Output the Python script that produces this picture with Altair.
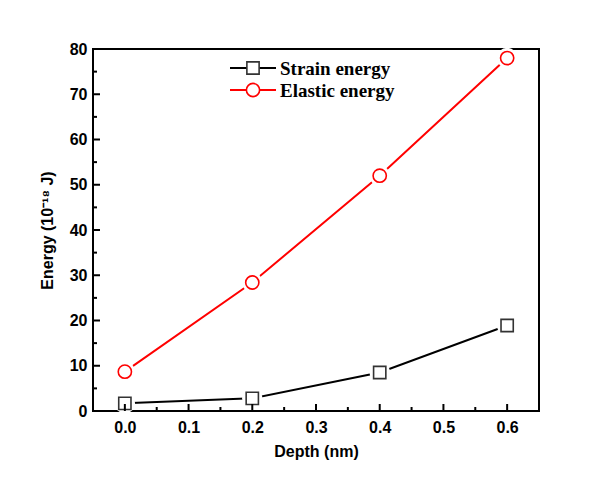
import altair as alt
import pandas as pd

depth = [0.0, 0.2, 0.4, 0.6]
strain = [1.7, 2.8, 8.5, 18.9]
elastic = [8.7, 28.4, 52.0, 78.0]
series_names = ["Strain energy", "Elastic energy"]
series_colors = ["#000000", "#ff0000"]
marker_colors = ["#333333", "#ff0000"]
marker_shapes = ["square", "circle"]
marker_sizes = [150, 175]
x_major = [0.0, 0.1, 0.2, 0.3, 0.4, 0.5, 0.6]
x_minor = [0.05, 0.15, 0.25, 0.35, 0.45, 0.55]
y_major = [0, 10, 20, 30, 40, 50, 60, 70, 80]
y_minor = [5, 15, 25, 35, 45, 55, 65, 75]

rows = []
for d, s, e in zip(depth, strain, elastic):
    rows.append({"depth": d, "energy": s, "series": series_names[0]})
    rows.append({"depth": d, "energy": e, "series": series_names[1]})
df = pd.DataFrame(rows)
legend_df = pd.DataFrame({"series": series_names})

W, H = 446, 362
xs = alt.Scale(domain=[-0.05, 0.65], nice=False, zero=False)
ys = alt.Scale(domain=[0, 80], nice=False)
cs = alt.Scale(domain=series_names, range=series_colors)

lab = dict(labelFont="Liberation Sans", labelFontWeight="bold", labelFontSize=16, labelColor="black",
           titleFont="Liberation Sans", titleFontWeight="bold", titleFontSize=16, titleColor="black")
main_x = alt.Axis(orient="bottom", values=x_major, format=".1f", ticks=False, grid=False,
                  domain=False, labelPadding=8, title="Depth (nm)", titlePadding=8, **lab)
main_y = alt.Axis(orient="left", values=y_major, ticks=False, grid=False, domain=False,
                  labelPadding=6, title="Energy (10⁻¹⁸ J)", titlePadding=14, **lab)

base = alt.Chart(df)

lines = base.mark_line(strokeWidth=2).encode(
    x=alt.X("depth:Q", scale=xs, axis=main_x),
    y=alt.Y("energy:Q", scale=ys, axis=main_y),
    color=alt.Color("series:N", scale=cs, legend=None),
)

halo = base.mark_point(filled=True, color="white", opacity=1, size=420, shape="circle").encode(
    x=alt.X("depth:Q", scale=xs),
    y=alt.Y("energy:Q", scale=ys),
)

marker_layers = []
for name, col, shp, sz in zip(series_names, marker_colors, marker_shapes, marker_sizes):
    marker_layers.append(
        base.transform_filter(alt.datum.series == name).mark_point(
            shape=shp, filled=False, fill="white", stroke=col, strokeWidth=1.6, opacity=1, size=sz
        ).encode(x=alt.X("depth:Q", scale=xs), y=alt.Y("energy:Q", scale=ys))
    )

xmaj = alt.Chart(pd.DataFrame({"v": x_major})).mark_rule(color="black", strokeWidth=2).encode(
    x=alt.X("v:Q", scale=xs), y=alt.value(H), y2=alt.value(H - 7))
xmin = alt.Chart(pd.DataFrame({"v": x_minor})).mark_rule(color="black", strokeWidth=2).encode(
    x=alt.X("v:Q", scale=xs), y=alt.value(H), y2=alt.value(H - 4))
ymaj = alt.Chart(pd.DataFrame({"v": y_major})).mark_rule(color="black", strokeWidth=2).encode(
    y=alt.Y("v:Q", scale=ys), x=alt.value(0), x2=alt.value(7))
ymin = alt.Chart(pd.DataFrame({"v": y_minor})).mark_rule(color="black", strokeWidth=2).encode(
    y=alt.Y("v:Q", scale=ys), x=alt.value(0), x2=alt.value(4))

# legend (line + marker + label per entry), placed inside the top of the plot
legend_layers = []
for i, (name, lcol, mcol, shp, sz) in enumerate(zip(series_names, series_colors, marker_colors,
                                                     marker_shapes, marker_sizes)):
    ly = 19 + 22 * i
    ldata = alt.Chart(legend_df).transform_filter(alt.datum.series == name)
    legend_layers.append(ldata.mark_rule(color=lcol, strokeWidth=2).encode(
        x=alt.value(137), x2=alt.value(183), y=alt.value(ly)))
    legend_layers.append(ldata.mark_point(
        shape=shp, filled=False, fill="white", stroke=mcol, strokeWidth=1.6, opacity=1, size=sz
    ).encode(x=alt.value(160), y=alt.value(ly)))
    legend_layers.append(ldata.mark_text(
        align="left", baseline="middle", font="Liberation Serif", fontWeight="bold",
        fontSize=19, color="black"
    ).encode(x=alt.value(187), y=alt.value(ly + 1), text="series:N"))

chart = alt.layer(lines, halo, *marker_layers, xmaj, xmin, ymaj, ymin, *legend_layers).properties(
    width=W, height=H,
    autosize=alt.AutoSizeParams(type="none"),
    padding={"left": 85, "top": 41, "right": 50, "bottom": 80},
).configure_view(
    stroke="black", strokeWidth=2
)

chart.save("out.html", embed_options={"renderer": "svg", "actions": False})
